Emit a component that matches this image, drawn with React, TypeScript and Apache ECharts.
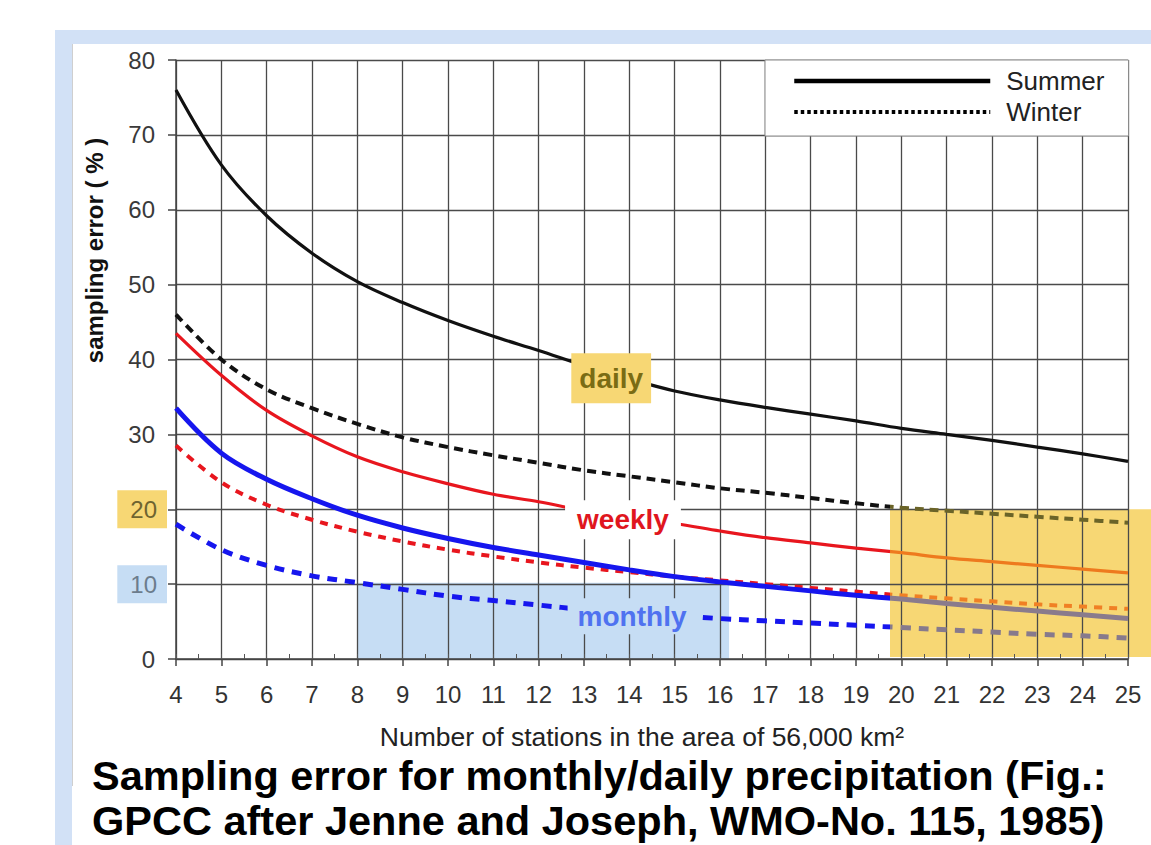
import React, { useEffect, useRef } from 'react';
import * as echarts from 'echarts';

// ---- data ----
const stations = [4, 5, 6, 7, 8, 9, 10, 11, 12, 13, 14, 15, 16, 17, 18, 19, 20, 21, 22, 23, 24, 25];
const dailySummer = [76, 66, 59.2, 54.2, 50.4, 47.6, 45.2, 43.1, 41.2, 39.2, 37.4, 35.8, 34.6, 33.6, 32.7, 31.8, 30.8, 30, 29.2, 28.3, 27.4, 26.4];
const dailyWinter = [46, 40, 36, 33.5, 31.4, 29.6, 28.3, 27.2, 26.2, 25.2, 24.4, 23.6, 22.8, 22.2, 21.5, 20.8, 20.2, 19.8, 19.4, 19, 18.6, 18.2];
const weeklySummer = [43.5, 37.9, 33.2, 29.8, 27, 25, 23.4, 22, 21, 19.8, 18.8, 18.1, 17.1, 16.2, 15.5, 14.8, 14.2, 13.5, 13, 12.5, 12, 11.5];
const weeklyWinter = [28.5, 23.6, 20.6, 18.6, 17, 15.7, 14.6, 13.7, 12.9, 12.2, 11.6, 11, 10.5, 10, 9.5, 9, 8.5, 8.1, 7.7, 7.3, 7, 6.7];
const monthlySummer = [33.5, 27.5, 24, 21.4, 19.2, 17.5, 16.1, 14.9, 13.9, 12.9, 11.9, 11, 10.3, 9.7, 9.1, 8.5, 8, 7.4, 6.9, 6.4, 5.9, 5.4];
const monthlyWinter = [18, 14.6, 12.5, 11.1, 10.2, 9.3, 8.4, 7.8, 7.2, 6.6, 6.1, 5.8, 5.4, 5.1, 4.8, 4.5, 4.2, 3.9, 3.6, 3.3, 3.1, 2.8];

const yTicks = [0, 10, 20, 30, 40, 50, 60, 70, 80];
const legendNames = ['Summer', 'Winter'];
const labelNotes = [
  { text: 'daily', x: 13.6, y: 37.5 },
  { text: 'weekly', x: 13.86, y: 18.6 },
  { text: 'monthly', x: 14.06, y: 5.7 },
];
// highlighted regions (x from, x to, y top)
const monthlyBand = { x0: 8, x1: 16.2, y1: 10.2 };
const dailyBand = { x0: 19.75, y1: 20 };

const FONT = 'Liberation Sans, Arial, sans-serif';
const YELLOW = '#F7D774';
const LIGHTBLUE = '#C6DDF4';

export default function App() {
  const ref = useRef<HTMLDivElement>(null);
  useEffect(() => {
    const chart = echarts.init(ref.current!, null, { renderer: 'svg' });
    const pairs = (arr: number[]) => stations.map((s, i) => [s, arr[i]]);
    const mkLine = (name: string, arr: number[], color: string | null, width: number, dash: any) => ({
      type: 'line',
      name,
      data: pairs(arr),
      smooth: 0.35,
      symbol: 'none',
      lineStyle: color ? { color, width, type: dash, cap: 'butt' } : { width, type: dash, cap: 'butt' },
      z: 3,
      silent: true,
    });
    const vm = (idx: number, c1: string, c2: string) => ({
      type: 'piecewise',
      show: false,
      seriesIndex: idx,
      dimension: 0,
      pieces: [
        { gte: 0, lt: dailyBand.x0, color: c1 },
        { gte: dailyBand.x0, lte: 100, color: c2 },
      ],
    });

    const labelStyles: Record<string, any> = {
      daily: { fill: '#7A6C14', backgroundColor: YELLOW, padding: [12, 8, 10, 8] },
      weekly: { fill: '#E0161E', backgroundColor: '#ffffff', padding: [8, 12, 3, 12] },
      monthly: { fill: '#4F72F0', backgroundColor: LIGHTBLUE, padding: [4, 10, 4, 10] },
    };

    const option: any = {
      animation: false,
      textStyle: { fontFamily: FONT },
      title: {
        text: 'Sampling error for monthly/daily precipitation (Fig.:\nGPCC after Jenne and Joseph, WMO-No. 115, 1985)',
        left: 92,
        top: 753,
        padding: 0,
        textStyle: { fontFamily: FONT, fontSize: 41.5, fontWeight: 'bold', color: '#000', lineHeight: 45 },
      },
      legend: {
        data: [
          { name: legendNames[0], itemStyle: { opacity: 0 }, lineStyle: { color: '#000', width: 4.5, type: 'solid', opacity: 1 } },
          { name: legendNames[1], itemStyle: { opacity: 0 }, lineStyle: { color: '#000', width: 4, type: [3.5, 3], opacity: 1 } },
        ],
        orient: 'vertical',
        left: 765,
        top: 60,
        padding: [8, 24, 11, 27],
        itemWidth: 196,
        itemHeight: 14,
        itemGap: 5,
        backgroundColor: '#fff',
        borderColor: '#8a8a8a',
        borderWidth: 1,
        borderRadius: 0,
        selectedMode: false,
        textStyle: { fontFamily: FONT, fontSize: 26, color: '#222', padding: [0, 0, 0, 11] },
        z: 5,
      },
      grid: { left: 176, right: 23, top: 60, bottom: 186, containLabel: false },
      xAxis: [
        {
          type: 'value',
          min: 4,
          max: 25,
          interval: 1,
          name: 'Number of stations in the area of 56,000 km²',
          nameLocation: 'middle',
          nameGap: 65,
          nameTextStyle: { fontFamily: FONT, fontSize: 26.5, color: '#222', padding: [0, 20, 0, 0], lineHeight: 26 },
          axisLine: { show: true, lineStyle: { color: '#444', width: 1.5 } },
          axisTick: { show: true, length: 7, lineStyle: { color: '#444', width: 1.5 } },
          axisLabel: { fontFamily: FONT, fontSize: 24, color: '#333', margin: 23 },
          splitLine: { show: true, lineStyle: { color: '#4a4a4a', width: 1.3 } },
        },
        {
          type: 'value',
          min: 4,
          max: 25,
          interval: 0.5,
          position: 'bottom',
          axisLine: { show: false },
          axisTick: { show: true, inside: true, length: 5, lineStyle: { color: '#555', width: 1 } },
          axisLabel: { show: false },
          splitLine: { show: false },
        },
      ],
      yAxis: {
        type: 'value',
        min: yTicks[0],
        max: yTicks[yTicks.length - 1],
        interval: 10,
        name: 'sampling error ( % )',
        nameLocation: 'middle',
        nameGap: 55,
        nameTextStyle: { fontFamily: FONT, fontSize: 24, fontWeight: 'bold', color: '#111', padding: [0, 0, 0, 218] },
        axisLine: { show: true, lineStyle: { color: '#444', width: 1.5 } },
        axisTick: { show: true, length: 8, lineStyle: { color: '#444', width: 1.5 } },
        axisLabel: {
          margin: 9,
          formatter: (v: number) => (v === 20 ? `{hy|${v}}` : v === 10 ? `{hb|${v}}` : `{n|${v}}`),
          rich: {
            n: { fontFamily: FONT, fontSize: 24, color: '#3a3a3a', padding: [0, 12, 0, 0] },
            hy: { fontFamily: FONT, fontSize: 24, color: '#6E6430', backgroundColor: YELLOW, padding: [7, 10, 7, 13], lineHeight: 24 },
            hb: { fontFamily: FONT, fontSize: 24, color: '#6C7C8C', backgroundColor: LIGHTBLUE, padding: [7, 10, 7, 13], lineHeight: 24 },
          },
        },
        splitLine: { show: true, lineStyle: { color: '#4a4a4a', width: 1.3 } },
      },
      visualMap: [
        vm(1, '#111111', '#6B6428'),
        vm(2, '#E8161E', '#EE7A1E'),
        vm(3, '#E8161E', '#F08024'),
        vm(4, '#1616EE', '#8A7B8C'),
        vm(5, '#1616EE', '#877A8C'),
      ],
      series: [
        mkLine('daily summer', dailySummer, '#111111', 3.2, 'solid'),
        mkLine('daily winter', dailyWinter, null, 4, [9, 6]),
        mkLine('weekly summer', weeklySummer, null, 3.2, 'solid'),
        mkLine('weekly winter', weeklyWinter, null, 4, [8, 7]),
        mkLine('monthly summer', monthlySummer, null, 5, 'solid'),
        mkLine('monthly winter', monthlyWinter, null, 5, [10, 8]),
        { type: 'line', name: 'Summer', data: [], symbol: 'none', lineStyle: { color: '#000', width: 4.5, type: 'solid' }, itemStyle: { color: '#000' } },
        { type: 'line', name: 'Winter', data: [], symbol: 'none', lineStyle: { color: '#000', width: 4, type: [3.5, 3] }, itemStyle: { color: '#000' } },
      ],
    };
    chart.setOption(option);

    const px = (x: number, y: number) => chart.convertToPixel({ xAxisIndex: 0, yAxisIndex: 0 } as any, [x, y]) as number[];
    const W = chart.getWidth();
    const H = chart.getHeight();
    const m0 = px(monthlyBand.x0, 0);
    const m1 = px(monthlyBand.x1, monthlyBand.y1);
    const d0 = px(dailyBand.x0, 0);
    const d1 = px(dailyBand.x0, dailyBand.y1);
    const labelEls = labelNotes.map((n) => {
      const p = px(n.x, n.y);
      return {
        type: 'text',
        z: 50,
        silent: true,
        x: p[0],
        y: p[1],
        style: {
          text: n.text,
          fontFamily: FONT,
          fontSize: 28,
          fontWeight: 'bold',
          align: 'center',
          verticalAlign: 'middle',
          ...labelStyles[n.text],
        },
      };
    });
    chart.setOption({
      graphic: {
        elements: [
          { type: 'rect', z: -20, silent: true, shape: { x: 55, y: 30, width: W - 55, height: H - 30 }, style: { fill: '#D2E1F6' } },
          { type: 'rect', z: -19, silent: true, shape: { x: 72, y: 44, width: W - 72, height: H - 44 }, style: { fill: '#ffffff' } },
          { type: 'line', z: -18, silent: true, shape: { x1: 72.5, y1: 44, x2: 72.5, y2: 786 }, style: { stroke: '#cfcfcf', lineWidth: 1 } },
          { type: 'rect', z: -5, silent: true, shape: { x: m0[0], y: m1[1], width: m1[0] - m0[0], height: m0[1] - m1[1] }, style: { fill: LIGHTBLUE } },
          { type: 'rect', z: -5, silent: true, shape: { x: d0[0], y: d1[1], width: W - d0[0], height: d0[1] - d1[1] - 2 }, style: { fill: YELLOW } },
          ...labelEls,
        ],
      },
    });
    return () => chart.dispose();
  }, []);
  return <div ref={ref} style={{ position: 'fixed', left: 0, top: 0, width: 1151, height: 845, background: '#fff' }} />;
}
